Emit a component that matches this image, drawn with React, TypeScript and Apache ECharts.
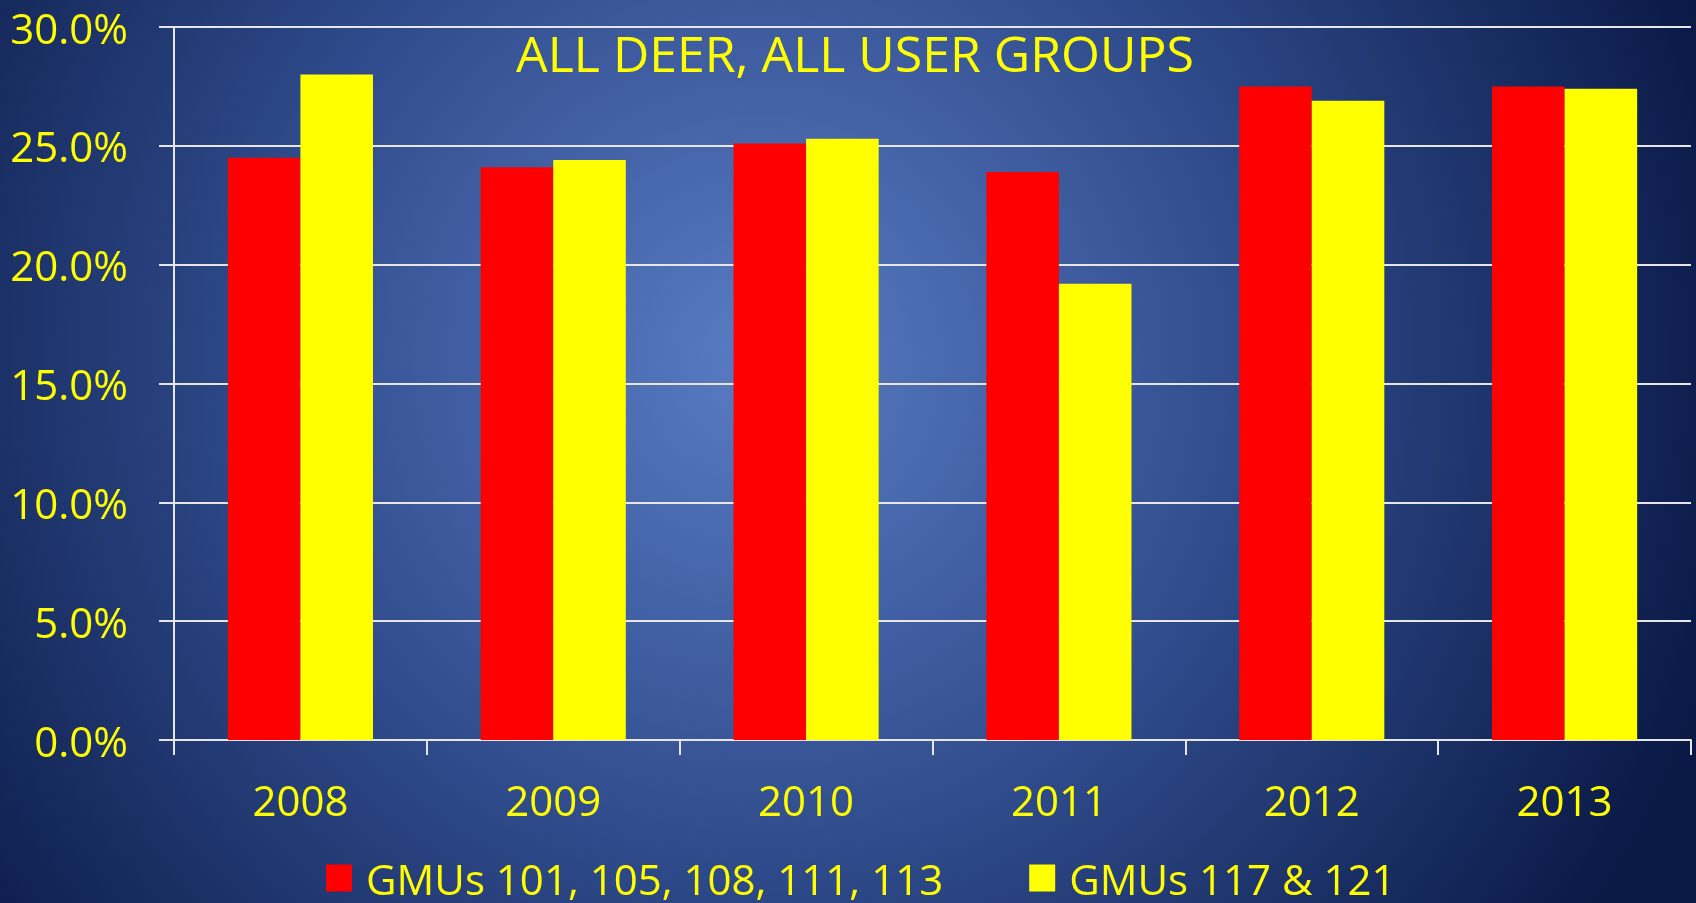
import React, { useEffect, useRef } from "react";
import * as echarts from "echarts";

const years = ["2008", "2009", "2010", "2011", "2012", "2013"];
const gmusA = [24.5, 24.1, 25.1, 23.9, 27.5, 27.5];
const gmusB = [28.0, 24.4, 25.3, 19.2, 26.9, 27.4];
const seriesNames = ["GMUs 101, 105, 108, 111, 113", "GMUs 117 & 121"];
const titleText = "ALL DEER, ALL USER GROUPS";

export default function App() {
  const ref = useRef<HTMLDivElement>(null);
  useEffect(() => {
    const chart = echarts.init(ref.current!, null, { renderer: "svg" });
    const font = "'Open Sans', sans-serif";
    chart.setOption({
      animation: false,
      backgroundColor: {
        type: "radial",
        x: 760,
        y: 360,
        r: 1000,
        global: true,
        colorStops: [
          { offset: 0, color: "#5a7cc4" },
          { offset: 0.5, color: "#2f4b8b" },
          { offset: 1, color: "#0a1946" },
        ],
      },
      title: {
        text: titleText,
        left: 850,
        top: 23,
        textAlign: "center",
        textStyle: { color: "#ffff00", fontFamily: font, fontSize: 50, fontWeight: "normal" },
      },
      legend: {
        left: 321,
        top: 851,
        itemWidth: 26,
        itemHeight: 27,
        itemGap: 86,
        icon: "rect",
        data: seriesNames,
        textStyle: { color: "#ffff00", fontFamily: font, fontSize: 42, padding: [0, 0, 0, 9], lineHeight: 44 },
      },
      grid: { left: 174, right: 5, top: 27, bottom: 903 - 740, containLabel: false },
      xAxis: {
        type: "category",
        data: years,
        axisLine: { lineStyle: { color: "#e6e6e6", width: 2 } },
        axisTick: { show: true, length: 15, lineStyle: { color: "#e6e6e6", width: 2 } },
        axisLabel: { color: "#ffff00", fontFamily: font, fontSize: 42, margin: 38 },
      },
      yAxis: {
        type: "value",
        min: 0,
        max: 30,
        interval: 5,
        axisLine: { show: true, lineStyle: { color: "#e6e6e6", width: 2 } },
        axisTick: { show: true, length: 15, lineStyle: { color: "#e6e6e6", width: 2 } },
        splitLine: { lineStyle: { color: "#e6e6e6", width: 2 } },
        axisLabel: {
          color: "#ffff00",
          fontFamily: font,
          fontSize: 42,
          margin: 46,
          formatter: (v: number) => v.toFixed(1) + "%",
        },
      },
      series: [
        {
          name: seriesNames[0],
          type: "bar",
          data: gmusA,
          barGap: "0%",
          barCategoryGap: "42.6%",
          itemStyle: { color: "#ff0000" },
        },
        {
          name: seriesNames[1],
          type: "bar",
          data: gmusB,
          barGap: "0%",
          barCategoryGap: "42.6%",
          itemStyle: { color: "#ffff00" },
        },
      ],
    });
    return () => chart.dispose();
  }, []);
  return (
    <div
      ref={ref}
      style={{ position: "fixed", left: 0, top: 0, width: 1696, height: 903 }}
    />
  );
}
